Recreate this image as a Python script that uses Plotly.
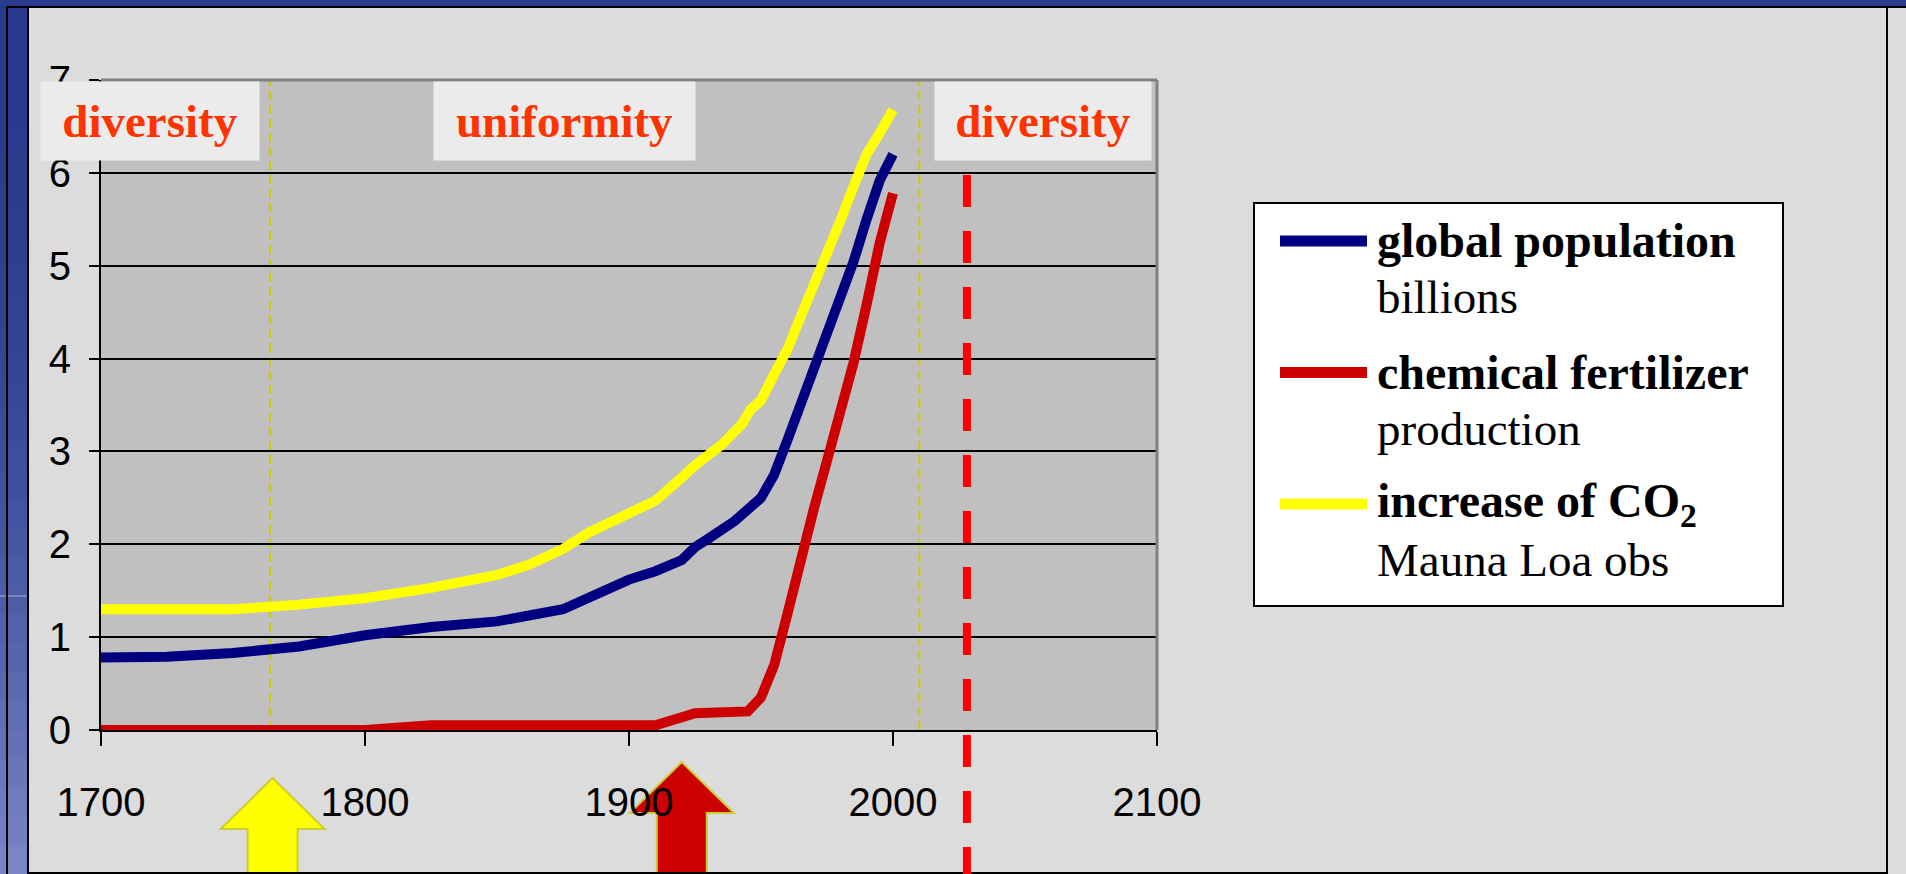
import plotly.graph_objects as go

# values
pop_years = [1700, 1725, 1750, 1775, 1800, 1825, 1850, 1875, 1900, 1910, 1920, 1925,
             1930, 1940, 1950, 1955, 1960, 1965, 1970, 1975, 1980, 1985, 1990, 1995, 2000]
pop_values = [0.78, 0.79, 0.83, 0.90, 1.02, 1.11, 1.17, 1.30, 1.62, 1.71, 1.83, 1.97,
              2.06, 2.25, 2.50, 2.75, 3.12, 3.50, 3.88, 4.25, 4.65, 5.04, 5.50, 5.92, 6.20]

fert_years = [1700, 1750, 1800, 1825, 1850, 1900, 1910, 1925, 1940, 1945, 1950, 1955,
              1960, 1965, 1970, 1975, 1980, 1985, 1990, 1995, 2000]
fert_values = [0.0, 0.0, 0.0, 0.05, 0.05, 0.05, 0.05, 0.18, 0.18, 0.20, 0.35, 0.70,
               1.25, 1.85, 2.38, 2.90, 3.42, 3.95, 4.58, 5.25, 5.78]

co2_years = [1700, 1725, 1750, 1775, 1800, 1825, 1850, 1862, 1875, 1885, 1900, 1910, 1920,
             1925, 1935, 1943, 1946, 1950, 1955, 1960, 1965, 1970, 1975, 1980, 1985, 1990,
             1995, 2000]
co2_values = [1.30, 1.30, 1.30, 1.35, 1.42, 1.53, 1.67, 1.78, 1.95, 2.13, 2.33, 2.47, 2.72,
              2.85, 3.07, 3.30, 3.45, 3.55, 3.83, 4.10, 4.45, 4.78, 5.13, 5.48, 5.85, 6.20,
              6.43, 6.68]

series_names = ["global population", "chemical fertilizer", "increase of CO<sub>2</sub>"]
series_units = ["billions", "production", "Mauna Loa obs"]
series_colors = ["#000080", "#cc0000", "#ffff00"]

x_ticks = [1700, 1800, 1900, 2000, 2100]
y_ticks = [0, 1, 2, 3, 4, 5, 6, 7]

era_labels = ["diversity", "uniformity", "diversity"]
era_bounds = [1764, 2010]          # thin yellow dashed lines
arrow_years = [1765, 1920]
arrow_colors = ["#ffff00", "#cc0000"]
future_year = 2028                 # red dashed line

# page geometry (pixels)
W, H = 1906, 874
L, R, T, B = 101, 1157, 80, 730


def px(x):
    return (x - L) / (R - L)


def py(y):
    return (B - y) / (B - T)


serif = "Liberation Serif, Times New Roman, serif"
sans = "Liberation Sans, Arial, sans-serif"

fig = go.Figure()
for xs, ys, name, color in zip([pop_years, fert_years, co2_years],
                               [pop_values, fert_values, co2_values],
                               series_names, series_colors):
    fig.add_trace(go.Scatter(x=xs, y=ys, mode="lines", name=name,
                             line=dict(color=color, width=10), showlegend=False,
                             hoverinfo="skip"))

shapes = []

# slide frame: blue bands and black rules
shapes.append(dict(type="rect", xref="paper", yref="paper", x0=px(0), x1=px(W),
                   y0=py(0), y1=py(7), fillcolor="#2a3a8c", line_width=0, layer="below"))
n_strips = 30
for i in range(n_strips):
    t = i / (n_strips - 1)
    f = t * t
    c = (int(41 + f * 80), int(58 + f * 75), int(140 + f * 57))
    y0 = 7 + (H - 7) * i / n_strips
    y1 = 7 + (H - 7) * (i + 1) / n_strips
    shapes.append(dict(type="rect", xref="paper", yref="paper", x0=px(0), x1=px(28),
                       y0=py(y0), y1=py(y1 + 1), fillcolor="rgb(%d,%d,%d)" % c,
                       line_width=0, layer="below"))
shapes.append(dict(type="line", xref="paper", yref="paper", x0=px(0), x1=px(28),
                   y0=py(596), y1=py(596), line=dict(color="#a9b0d8", width=1)))
for x in [7, 28, 1887]:
    shapes.append(dict(type="line", xref="paper", yref="paper", x0=px(x), x1=px(x),
                       y0=py(6), y1=py(H), line=dict(color="black", width=2)))
shapes.append(dict(type="line", xref="paper", yref="paper", x0=px(6), x1=px(W),
                   y0=py(7), y1=py(7), line=dict(color="black", width=2)))
shapes.append(dict(type="line", xref="paper", yref="paper", x0=px(28), x1=px(1888),
                   y0=py(873), y1=py(873), line=dict(color="black", width=2), layer="above"))

# grey top and right edges of the plot area
shapes.append(dict(type="line", xref="paper", yref="paper", x0=0, x1=1, y0=1, y1=1,
                   line=dict(color="#808080", width=3)))
shapes.append(dict(type="line", xref="paper", yref="paper", x0=1, x1=1, y0=0, y1=1,
                   line=dict(color="#808080", width=3)))

# era boundaries
for yr in era_bounds:
    shapes.append(dict(type="line", xref="x", yref="y", x0=yr, x1=yr, y0=0, y1=7,
                       line=dict(color="#cccc00", width=2, dash="9px,5px"), layer="below"))

# red dashed "now" line running off the bottom of the slide
shapes.append(dict(type="line", xref="x", yref="paper", x0=future_year, x1=future_year,
                   y0=py(175), y1=py(H + 5),
                   line=dict(color="#ff0000", width=8, dash="32px,24px"), layer="above"))

# arrows under the axis
ppy = (R - L) / (x_ticks[-1] - x_ticks[0])
for yr, col, tip in zip(arrow_years, arrow_colors, [778, 762]):
    hw, sw = 52 / ppy, 25 / ppy
    head, bot = py(tip + 51), py(H + 5)
    path = ("M %f,%f L %f,%f L %f,%f L %f,%f L %f,%f L %f,%f L %f,%f Z"
            % (yr, py(tip), yr + hw, head, yr + sw, head, yr + sw, bot,
               yr - sw, bot, yr - sw, head, yr - hw, head))
    shapes.append(dict(type="path", xref="x", yref="paper", path=path, fillcolor=col,
                       line=dict(color="#cccc33", width=2), layer="below"))

# legend box
shapes.append(dict(type="rect", xref="paper", yref="paper", x0=px(1254), x1=px(1783),
                   y0=py(203), y1=py(606), fillcolor="white",
                   line=dict(color="black", width=2), layer="above"))

annotations = []
for i, (name, unit, color) in enumerate(zip(series_names, series_units, series_colors)):
    cy = 241 + i * 131.5
    shapes.append(dict(type="line", xref="paper", yref="paper", x0=px(1280), x1=px(1367),
                       y0=py(cy), y1=py(cy), line=dict(color=color, width=11), layer="above"))
    annotations.append(dict(x=px(1375), y=py(cy), xref="paper", yref="paper",
                            text="<b>%s</b>" % name, showarrow=False, xanchor="left",
                            yanchor="middle", font=dict(family=serif, size=48, color="black")))
    annotations.append(dict(x=px(1375), y=py(cy + 56), xref="paper", yref="paper",
                            text=unit, showarrow=False, xanchor="left",
                            yanchor="middle", font=dict(family=serif, size=47, color="black")))

# era labels on light boxes
for label, cx, w in zip(era_labels, [150, 564.5, 1043], [218, 261, 216]):
    annotations.append(dict(x=px(cx), y=py(121), xref="paper", yref="paper",
                            text="<b>%s</b>" % label, showarrow=False, xanchor="center",
                            yanchor="middle", width=w, height=78, bgcolor="#ebebeb",
                            borderpad=0, font=dict(family=serif, size=47, color="#ff3300")))

fig.update_layout(
    width=W, height=H,
    margin=dict(l=L, r=W - R, t=T, b=H - B, pad=0),
    paper_bgcolor="#dcdcdc",
    plot_bgcolor="#c0c0c0",
    shapes=shapes,
    annotations=annotations,
    showlegend=False,
    xaxis=dict(range=[x_ticks[0], x_ticks[-1]], tickvals=x_ticks, showgrid=False,
               zeroline=False, showline=True, linecolor="black", linewidth=2,
               ticks="outside", ticklen=14, tickwidth=2, tickcolor="black",
               ticklabelstandoff=22, tickfont=dict(family=sans, size=40, color="black")),
    yaxis=dict(range=[y_ticks[0], y_ticks[-1]], tickvals=y_ticks, showgrid=True,
               gridcolor="black", gridwidth=2, zeroline=False, showline=True,
               linecolor="black", linewidth=2, ticks="outside", ticklen=10,
               tickwidth=2, tickcolor="black", ticklabelstandoff=10,
               tickfont=dict(family=sans, size=40, color="black")),
)

# drop the browser's default body margin so the slide fills the window
fig.write_html("out.html", config={"displayModeBar": False},
               post_script="document.body.style.margin='0';")
